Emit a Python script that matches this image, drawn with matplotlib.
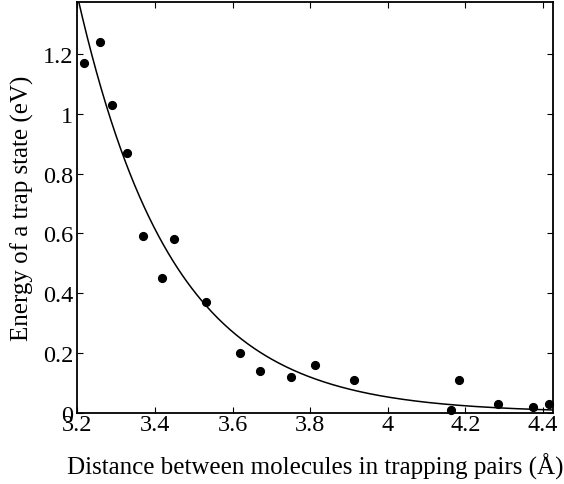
import numpy as np
import matplotlib
matplotlib.use('Agg')
import matplotlib.pyplot as plt

# Trap energies
distance = [3.218, 3.257, 3.288, 3.328, 3.368, 3.419, 3.448, 3.530, 3.620,
            3.671, 3.751, 3.812, 3.913, 4.164, 4.184, 4.285, 4.375, 4.415]
energy = [1.17, 1.24, 1.03, 0.87, 0.59, 0.45, 0.58, 0.37, 0.20,
          0.14, 0.12, 0.16, 0.11, 0.01, 0.11, 0.03, 0.02, 0.03]

# Exponential fit drawn in the figure: E = A * exp(-k * (d - d0))
fit_A = 1.393
fit_k = 4.1
fit_d0 = 3.2
fit_range = (3.2, 4.425)

xticks = [3.2, 3.4, 3.6, 3.8, 4.0, 4.2, 4.4]
xticklabels = ['3.2', '3.4', '3.6', '3.8', '4', '4.2', '4.4']
yticks = [0, 0.2, 0.4, 0.6, 0.8, 1.0, 1.2]
yticklabels = ['0', '0.2', '0.4', '0.6', '0.8', '1', '1.2']

plt.rcParams['font.family'] = 'Liberation Serif'

fig = plt.figure(figsize=(5.64, 4.85), dpi=100)
ax = fig.add_axes([0.1374, 0.147, 0.8426, 0.8468])

d_fit = np.linspace(fit_range[0], fit_range[1], 400)
e_fit = fit_A * np.exp(-fit_k * (d_fit - fit_d0))
ax.plot(d_fit, e_fit, color='black', lw=1.1)
ax.plot(distance, energy, 'o', color='black', markersize=5.6, clip_on=False)

ax.set_xlim(3.2, 4.425)
ax.set_ylim(0, 1.374)
ax.set_xticks(xticks)
ax.set_xticklabels(xticklabels)
ax.set_yticks(yticks)
ax.set_yticklabels(yticklabels)
ax.tick_params(direction='in', length=4.5, width=0.8, labelsize=17.5,
               top=True, right=True)
ax.tick_params(axis='x', pad=0.8)
ax.tick_params(axis='y', pad=3)
for s in ax.spines.values():
    s.set_linewidth(1.3)

ax.set_xlabel('Distance between molecules in trapping pairs (Å)', fontsize=18)
ax.set_ylabel('Energy of a trap state (eV)', fontsize=18)
ax.xaxis.label.set_va('center')
ax.yaxis.label.set_va('center')
ax.xaxis.set_label_coords(0.5, -0.13)
ax.yaxis.set_label_coords(-0.116, 0.5)

fig.savefig('out.png', dpi=100)
